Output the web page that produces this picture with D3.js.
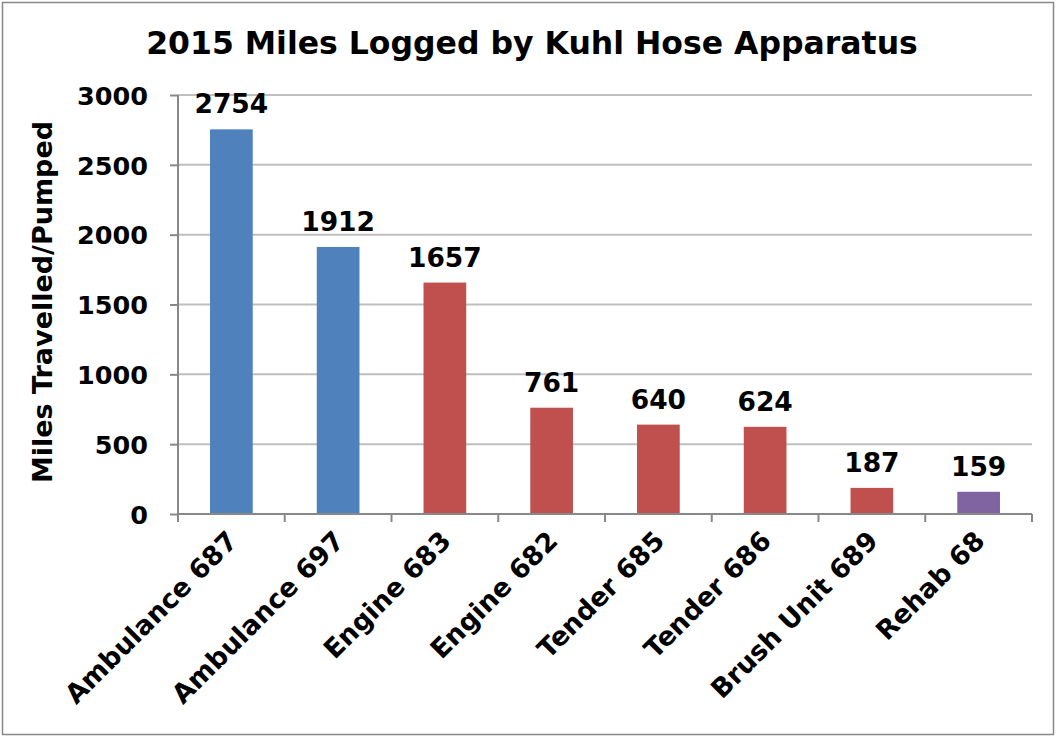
<!DOCTYPE html>
<head>
  <title>2015 Miles Logged by Kuhl Hose Apparatus</title>
  <style>
    body { margin: 0; background: #fff; }
    text { font-family: "DejaVu Sans", Verdana, sans-serif; font-weight: bold; fill: #000; }
  </style>
</head>
<body>
  <script src="https://cdn.jsdelivr.net/npm/d3@7"></script>
  <script>
    // data
    var apparatus = ["Ambulance 687", "Ambulance 697", "Engine 683", "Engine 682",
                     "Tender 685", "Tender 686", "Brush Unit 689", "Rehab 68"];
    var miles = [2754, 1912, 1657, 761, 640, 624, 187, 159];
    var group = ["ems", "ems", "fire", "fire", "fire", "fire", "fire", "rehab"];
    var yTicks = [0, 500, 1000, 1500, 2000, 2500, 3000];

    var w = 1057, h = 736;
    var plotLeft = 178, plotRight = 1032, plotTop = 95, plotBottom = 514;

    var color = d3.scaleOrdinal()
      .domain(["ems", "fire", "rehab"])
      .range(["#4F81BD", "#C0504D", "#8064A2"]);

    var x = d3.scaleBand().domain(apparatus).range([plotLeft, plotRight]).paddingInner(0.6).paddingOuter(0.3);
    var xEdge = d3.scaleLinear().domain([0, apparatus.length]).range([plotLeft, plotRight]);
    var y = d3.scaleLinear().domain([0, 3000]).range([plotBottom, plotTop]);

    var svg = d3.select("body").append("svg")
      .attr("width", w)
      .attr("height", h);

    // outer frame
    svg.append("rect")
      .attr("x", 2.5).attr("y", 2.5)
      .attr("width", w - 6).attr("height", h - 4)
      .attr("fill", "none").attr("stroke", "#888").attr("stroke-width", 1.5);

    // gridlines
    svg.append("g")
      .selectAll("line")
      .data(yTicks.slice(1))
      .enter().append("line")
      .attr("x1", plotLeft).attr("x2", plotRight)
      .attr("y1", function(d) { return y(d); })
      .attr("y2", function(d) { return y(d); })
      .attr("stroke", "#BFBFBF").attr("stroke-width", 2);

    // bars
    svg.append("g")
      .selectAll("rect")
      .data(miles)
      .enter().append("rect")
      .attr("x", function(d, i) { return x(apparatus[i]); })
      .attr("y", function(d) { return y(d); })
      .attr("width", x.bandwidth())
      .attr("height", function(d) { return plotBottom - y(d); })
      .attr("fill", function(d, i) { return color(group[i]); });

    // value labels
    svg.append("g")
      .selectAll("text")
      .data(miles)
      .enter().append("text")
      .attr("x", function(d, i) { return x(apparatus[i]) + x.bandwidth() / 2; })
      .attr("y", function(d) { return y(d) - 16; })
      .attr("text-anchor", "middle")
      .style("font-size", "26.5px")
      .text(function(d) { return d; });

    // Y axis
    var yAxis = d3.axisLeft(y).tickValues(yTicks).tickFormat(d3.format("d")).tickSize(8).tickPadding(22);
    var gy = svg.append("g")
      .attr("transform", "translate(" + plotLeft + ",0)")
      .call(yAxis);
    gy.select(".domain").attr("stroke", "#888").attr("stroke-width", 2).attr("d", "M0," + plotTop + "V" + plotBottom);
    gy.selectAll(".tick line").attr("stroke", "#888").attr("stroke-width", 2);
    gy.selectAll(".tick text").style("font-size", "25.5px").attr("dy", "0.36em");

    // X axis
    var gx = svg.append("g");
    gx.append("line")
      .attr("x1", plotLeft).attr("x2", plotRight)
      .attr("y1", plotBottom).attr("y2", plotBottom)
      .attr("stroke", "#888").attr("stroke-width", 2);
    gx.selectAll(".edge")
      .data(d3.range(apparatus.length + 1))
      .enter().append("line")
      .attr("class", "edge")
      .attr("x1", function(d) { return xEdge(d); })
      .attr("x2", function(d) { return xEdge(d); })
      .attr("y1", plotBottom).attr("y2", plotBottom + 8)
      .attr("stroke", "#888").attr("stroke-width", 2);
    gx.selectAll("text")
      .data(apparatus)
      .enter().append("text")
      .attr("transform", function(d) {
        return "translate(" + (x(d) + x.bandwidth() / 2 + 1) + "," + (plotBottom + 22) + ") rotate(-45)";
      })
      .attr("text-anchor", "end")
      .attr("dy", "0.35em")
      .style("font-size", "26.5px")
      .text(function(d) { return d; });

    // title
    svg.append("text")
      .attr("x", 532).attr("y", 54)
      .attr("text-anchor", "middle")
      .style("font-size", "31.5px")
      .text("2015 Miles Logged by Kuhl Hose Apparatus");

    // Y axis title
    svg.append("text")
      .attr("transform", "translate(52,302) rotate(-90)")
      .attr("text-anchor", "middle")
      .style("font-size", "27px")
      .text("Miles Travelled/Pumped");
  </script>
</body>
